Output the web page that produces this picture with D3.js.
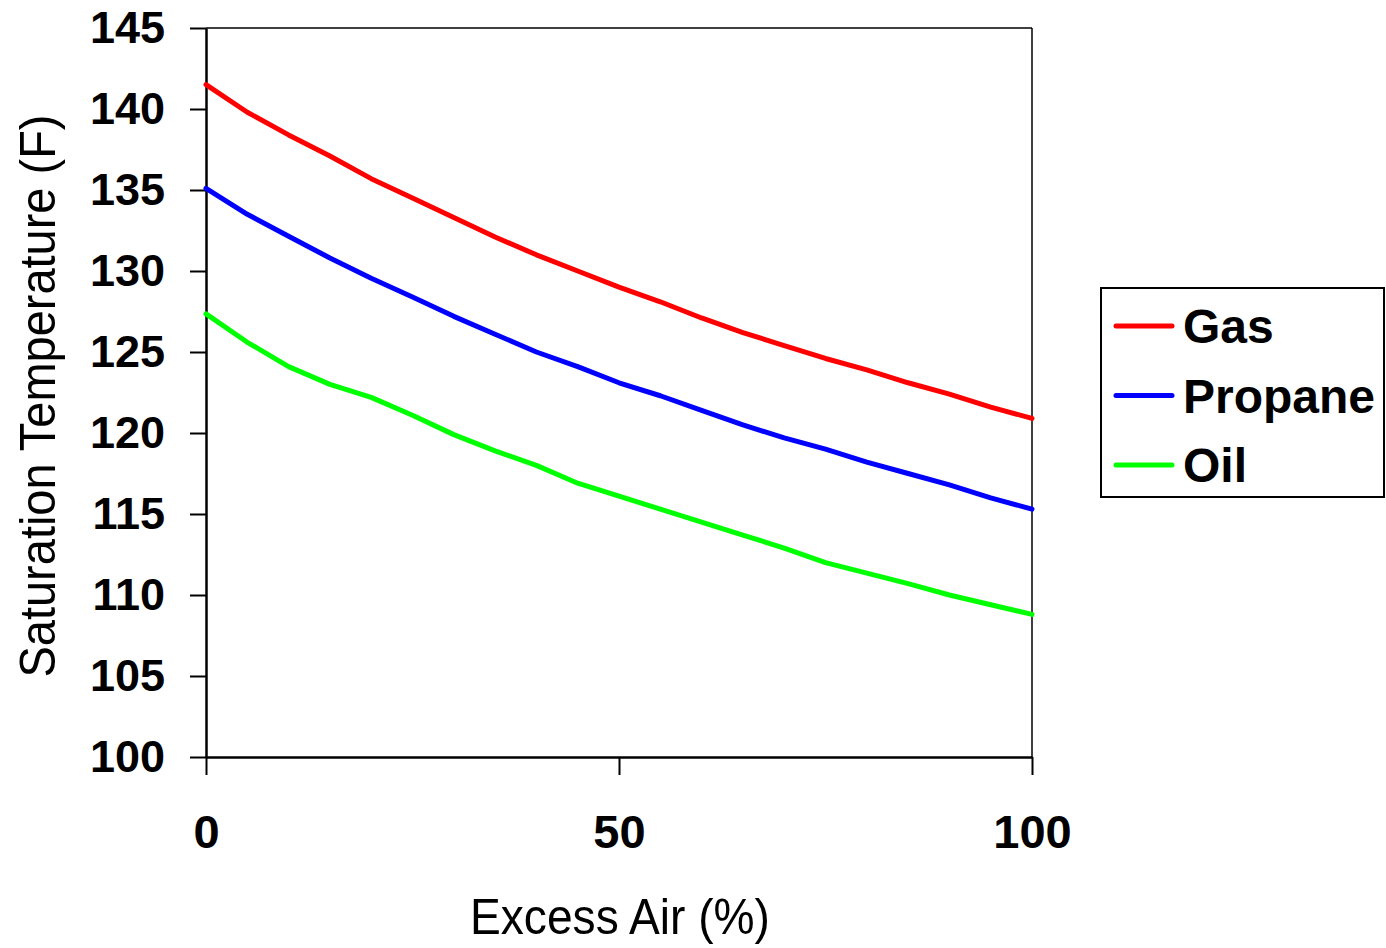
<!DOCTYPE html>
<html>
<head>
<meta charset="utf-8">
<script src="https://cdn.jsdelivr.net/npm/d3@7"></script>
<style>
  html, body { margin: 0; padding: 0; background: #fff; }
  svg { display: block; }
</style>
</head>
<body>
<svg id="chart" width="1386" height="948"></svg>
<script>
// ---- data ----
const excessAir = [0, 5, 10, 15, 20, 25, 30, 35, 40, 45, 50, 55, 60, 65, 70, 75, 80, 85, 90, 95, 100];
const gas     = [141.5, 139.8, 138.4, 137.1, 135.7, 134.5, 133.3, 132.1, 131.0, 130.0, 129.0, 128.1, 127.1, 126.2, 125.4, 124.6, 123.9, 123.1, 122.4, 121.6, 120.9];
const propane = [135.1, 133.5, 132.15, 130.8, 129.55, 128.4, 127.2, 126.1, 125.0, 124.1, 123.1, 122.3, 121.4, 120.5, 119.7, 119.0, 118.2, 117.5, 116.8, 116.0, 115.3];
const oil     = [127.35, 125.6, 124.1, 123.0, 122.2, 121.1, 119.9, 118.9, 118.0, 116.9, 116.1, 115.3, 114.5, 113.7, 112.9, 112.0, 111.35, 110.7, 110.0, 109.4, 108.8];
const seriesNames = ["Gas", "Propane", "Oil"];
const seriesColors = ["#ff0000", "#0000ff", "#00ff00"];
const yTicks = [100, 105, 110, 115, 120, 125, 130, 135, 140, 145];
const xTicks = [0, 50, 100];
const xTitle = "Excess Air (%)";
const yTitle = "Saturation Temperature (F)";

// ---- layout ----
const svg = d3.select("#chart");
const mLeft = 206, mRight = 1032, mTop = 28, mBottom = 757;
const x = d3.scaleLinear().domain([0, 100]).range([mLeft, mRight]);
const y = d3.scaleLinear().domain([100, 145]).range([mBottom, mTop]);
const boldFont = "'Liberation Sans', Arial, sans-serif";

// frame (top and right, thin)
svg.append("line").attr("x1", mLeft).attr("x2", mRight).attr("y1", mTop).attr("y2", mTop)
  .attr("stroke", "#000").attr("stroke-width", 1.5);
svg.append("line").attr("x1", mRight).attr("x2", mRight).attr("y1", mTop).attr("y2", mBottom)
  .attr("stroke", "#000").attr("stroke-width", 1.5);

// y axis
const gy = svg.append("g").attr("transform", `translate(${mLeft},0)`)
  .call(d3.axisLeft(y).tickValues(yTicks).tickSize(16).tickPadding(25).tickSizeOuter(0));
gy.select(".domain").attr("stroke-width", 2.5);
gy.selectAll(".tick line").attr("stroke-width", 2);
gy.selectAll(".tick text").attr("font-family", boldFont).attr("font-weight", "bold")
  .attr("font-size", 45).attr("fill", "#000");

// x axis
const gx = svg.append("g").attr("transform", `translate(0,${mBottom})`)
  .call(d3.axisBottom(x).tickValues(xTicks).tickSize(18).tickPadding(40).tickSizeOuter(0));
gx.select(".domain").attr("stroke-width", 2.5);
gx.selectAll(".tick line").attr("stroke-width", 2);
gx.selectAll(".tick text").attr("font-family", boldFont).attr("font-weight", "bold")
  .attr("font-size", 47).attr("fill", "#000");

// lines
const allSeries = [gas, propane, oil];
const line = d3.line().x((d, i) => x(excessAir[i])).y(d => y(d));
svg.append("g").selectAll("path").data(allSeries).join("path")
  .attr("d", d => line(d))
  .attr("fill", "none")
  .attr("stroke", (d, i) => seriesColors[i])
  .attr("stroke-width", 5)
  .attr("stroke-linejoin", "round")
  .attr("stroke-linecap", "round");

// axis titles
svg.append("text").attr("x", 620).attr("y", 934).attr("text-anchor", "middle")
  .attr("font-family", "'Liberation Sans Narrow', 'Liberation Sans', Arial, sans-serif")
  .attr("font-size", 50).attr("fill", "#000")
  .attr("textLength", 300).attr("lengthAdjust", "spacingAndGlyphs")
  .text(xTitle);
svg.append("text").attr("transform", "translate(55,396) rotate(-90)").attr("text-anchor", "middle")
  .attr("font-family", "'Liberation Sans Narrow', 'Liberation Sans', Arial, sans-serif")
  .attr("font-size", 50).attr("fill", "#000")
  .attr("textLength", 563).attr("lengthAdjust", "spacingAndGlyphs")
  .text(yTitle);

// legend
const lg = svg.append("g");
lg.append("rect").attr("x", 1101).attr("y", 288).attr("width", 283).attr("height", 209)
  .attr("fill", "#fff").attr("stroke", "#000").attr("stroke-width", 2);
const legY = d3.scalePoint().domain(seriesNames).range([326, 465]);
seriesNames.forEach((name, i) => {
  lg.append("line").attr("x1", 1116).attr("x2", 1172)
    .attr("y1", legY(name)).attr("y2", legY(name))
    .attr("stroke", seriesColors[i]).attr("stroke-width", 5).attr("stroke-linecap", "round");
  lg.append("text").attr("x", 1183).attr("y", legY(name)).attr("dy", "0.36em")
    .attr("font-family", boldFont).attr("font-weight", "bold").attr("font-size", 48)
    .attr("fill", "#000").text(name);
});
</script>
</body>
</html>
